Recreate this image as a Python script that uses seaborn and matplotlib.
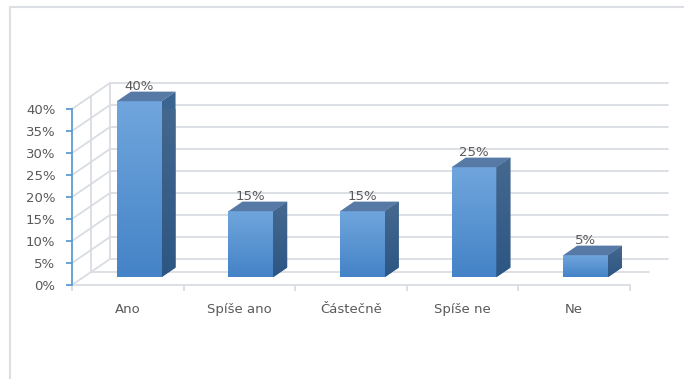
import numpy as np
import matplotlib
matplotlib.use("Agg")
import matplotlib.pyplot as plt
import seaborn as sns
import pandas as pd
from matplotlib.patches import Polygon
from matplotlib.colors import LinearSegmentedColormap
from matplotlib.lines import Line2D

# Survey answers and their shares (percent)
categories = ["Ano", "Spíše ano", "Částečně", "Spíše ne", "Ne"]
shares = [40, 15, 15, 25, 5]
value_labels = ["40%", "15%", "15%", "25%", "5%"]
tick_values = [0, 5, 10, 15, 20, 25, 30, 35, 40]
tick_labels = ["0%", "5%", "10%", "15%", "20%", "25%", "30%", "35%", "40%"]

sns.set_theme(style="white")
plt.rcParams["font.family"] = ["DejaVu Sans"]

TEXT = "#595959"
GRID = "#d9dce1"
AXIS_BLUE = "#5b9bd5"

W, H = 684, 379
fig = plt.figure(figsize=(W / 100, H / 100), dpi=100)
ax = fig.add_axes([72 / W, (H - 285) / H, 558 / W, 176 / H])

df = pd.DataFrame({"answer": categories, "share": shares})
sns.barplot(data=df, x="answer", y="share", width=0.4, color="#5b9bd5",
            saturation=1, ax=ax, zorder=3)

# pseudo-3D geometry: wall depth vector, bar position and depth along it
DX, DY = 0.34, 5.9
bar_pos = 0.3
bar_depth = 0.37
bdx, bdy = bar_depth * DX, bar_depth * DY
ymax = tick_values[-1]

# walls and floor
wall_kw = dict(color=GRID, lw=1.3, clip_on=False, zorder=0)
for v in tick_values:
    ax.plot([-0.5 + DX, 4.5 + DX], [v + DY, v + DY], **wall_kw)
    ax.plot([-0.5, -0.5 + DX], [v, v + DY], **wall_kw)
ax.plot([-0.5 + DX / 2] * 2, [DY / 2, ymax + DY / 2], **wall_kw)
ax.plot([-0.5 + DX] * 2, [DY, ymax + DY], **wall_kw)
ax.plot([-0.5 + DX / 2, 4.5 + DX / 2], [DY / 2, DY / 2], **wall_kw)
ax.plot([-0.5, 4.5], [0, 0], **wall_kw)

front_cmap = LinearSegmentedColormap.from_list("front", ["#4483c7", "#70a6dd"])
side_cmap = LinearSegmentedColormap.from_list("side", ["#2d5683", "#46698f"])
grad = np.linspace(0, 1, 256).reshape(-1, 1)

for patch, lab in zip(ax.patches, value_labels):
    x0 = patch.get_x() + bar_pos * DX
    w = patch.get_width()
    h = patch.get_height()
    y0 = bar_pos * DY
    patch.set_x(x0)
    patch.set_y(y0)
    patch.set_edgecolor("none")
    patch.set_clip_on(False)
    x1, y1 = x0 + w, y0 + h

    img = ax.imshow(grad, cmap=front_cmap, origin="lower", aspect="auto",
                    extent=(x0, x1, y0, y1), zorder=4)
    img.set_clip_path(patch)

    side = Polygon([(x1, y0), (x1 + bdx, y0 + bdy), (x1 + bdx, y1 + bdy), (x1, y1)],
                   closed=True, facecolor="#3a6590", edgecolor="none",
                   zorder=3, clip_on=False)
    ax.add_patch(side)
    simg = ax.imshow(grad, cmap=side_cmap, origin="lower", aspect="auto",
                     extent=(x1, x1 + bdx, y0, y1 + bdy), zorder=4)
    simg.set_clip_path(side)

    top = Polygon([(x0, y1), (x1, y1), (x1 + bdx, y1 + bdy), (x0 + bdx, y1 + bdy)],
                  closed=True, facecolor="#5679a5", edgecolor="none",
                  zorder=4, clip_on=False)
    ax.add_patch(top)

    ax.text(x0 + w / 2, y1 + bdy - 0.4, lab, ha="center", va="bottom",
            fontsize=9.5, color=TEXT, zorder=6, clip_on=False)

ax.set_xlim(-0.5, 4.5)
ax.set_ylim(0, ymax)

# axes styling
for s in ["top", "right", "bottom"]:
    ax.spines[s].set_visible(False)
ax.spines["left"].set_color(AXIS_BLUE)
ax.spines["left"].set_linewidth(1.3)
ax.set_xlabel("")
ax.set_ylabel("")

ax.set_yticks(tick_values)
ax.set_yticklabels(tick_labels)
ax.tick_params(axis="y", which="major", left=True, length=4, width=1.3,
               color=AXIS_BLUE, labelcolor=TEXT, labelsize=9.5, pad=8)

ax.set_xticks(np.arange(-0.5, 5, 1.0))
ax.set_xticklabels([])
ax.set_xticks(np.arange(len(categories)), minor=True)
ax.set_xticklabels(categories, minor=True)
ax.tick_params(axis="x", which="major", bottom=True, length=4, width=1.3,
               color=GRID)
ax.tick_params(axis="x", which="minor", bottom=False, length=0,
               labelcolor=TEXT, labelsize=9.5, pad=13)
ax.grid(False)

# chart area outline
fig.add_artist(Line2D([10 / W, 10 / W], [0, 1 - 7 / H], transform=fig.transFigure,
                      color="#dcdfe4", lw=1.5))
fig.add_artist(Line2D([10 / W, 1], [1 - 7 / H, 1 - 7 / H], transform=fig.transFigure,
                      color="#dcdfe4", lw=1.5))

fig.savefig("out.png", dpi=100, facecolor="white")
